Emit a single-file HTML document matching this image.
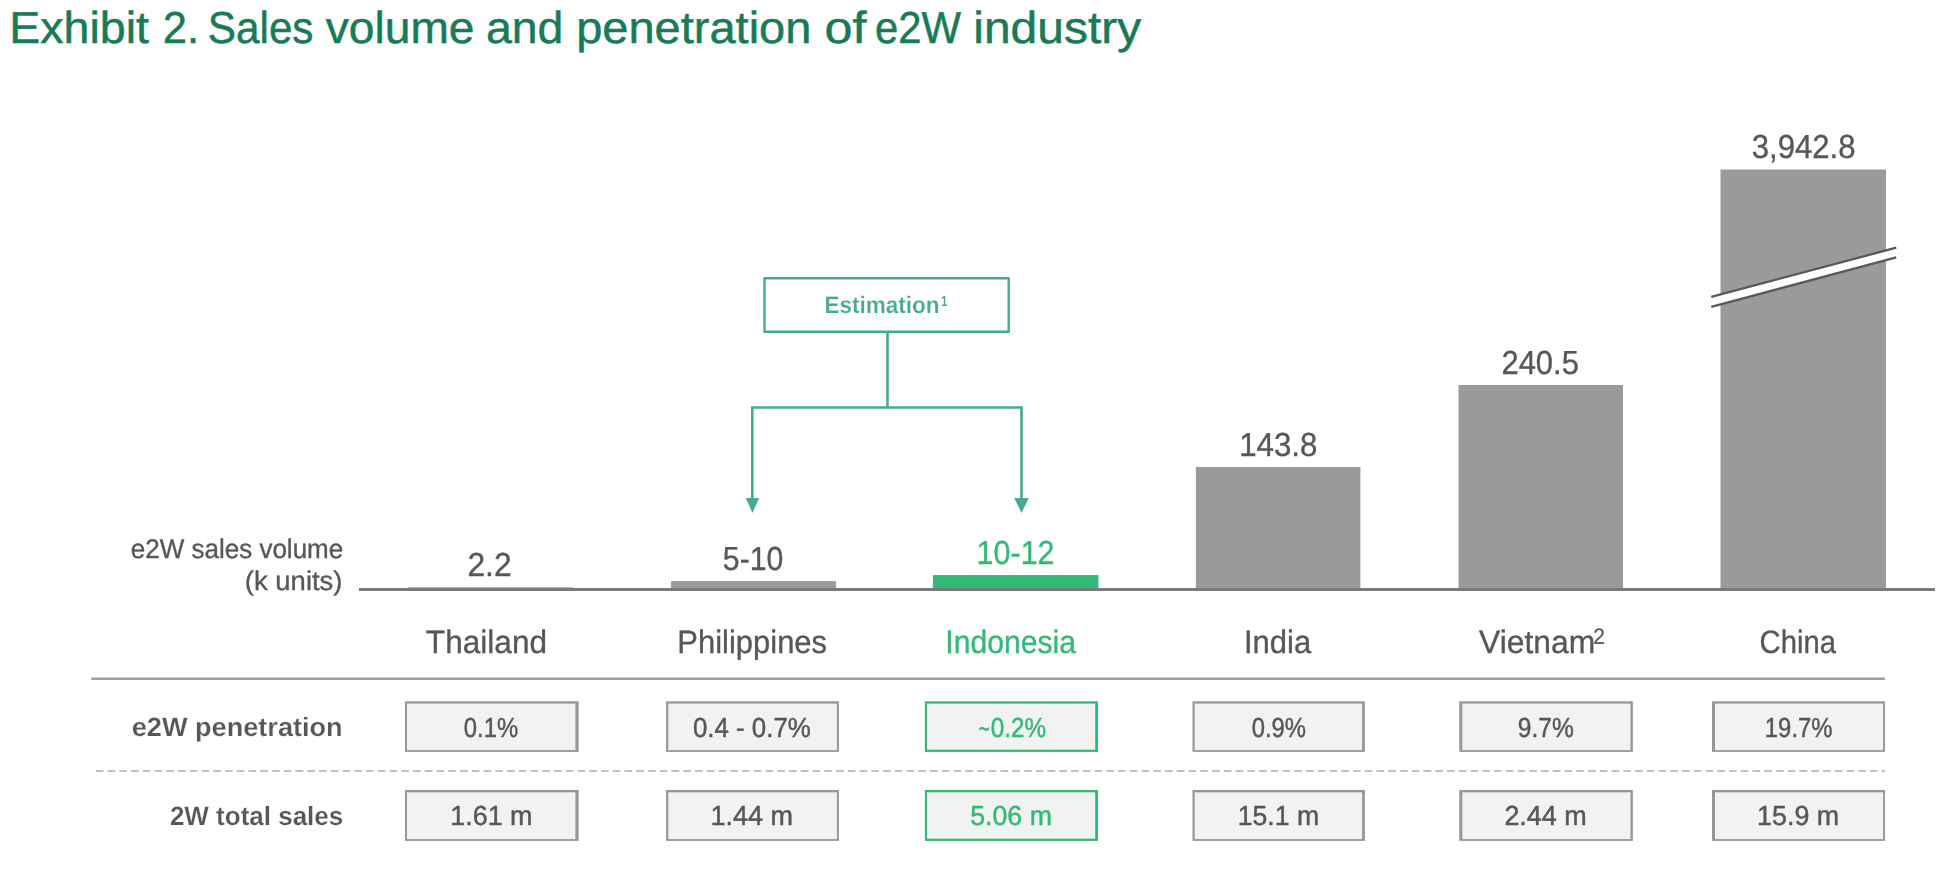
<!DOCTYPE html>
<html lang="en"><head><meta charset="utf-8"><title>Exhibit 2. Sales volume and penetration of e2W industry</title>
<style>
html,body{margin:0;padding:0;background:#fff;}
body{width:1956px;height:874px;overflow:hidden;position:relative;}
svg{display:block;position:absolute;left:0;top:0;font-family:"Liberation Sans",sans-serif;}
#chart{will-change:transform;}
text{white-space:pre;text-rendering:geometricPrecision;}
</style></head><body>
<svg id="title" width="1956" height="70" viewBox="0 0 1956 70">
<text><tspan x="9.31" y="43.00" font-size="44.8" textLength="139.66" lengthAdjust="spacingAndGlyphs" fill="#197a56" stroke="#197a56" stroke-width="0.5">Exhibit</tspan> <tspan x="162.77" y="43.00" font-size="44.8" textLength="36.37" lengthAdjust="spacingAndGlyphs" fill="#197a56" stroke="#197a56" stroke-width="0.5">2.</tspan> <tspan x="207.85" y="43.00" font-size="44.8" textLength="105.64" lengthAdjust="spacingAndGlyphs" fill="#197a56" stroke="#197a56" stroke-width="0.5">Sales</tspan> <tspan x="325.82" y="43.00" font-size="44.8" textLength="148.65" lengthAdjust="spacingAndGlyphs" fill="#197a56" stroke="#197a56" stroke-width="0.5">volume</tspan> <tspan x="485.98" y="43.00" font-size="44.8" textLength="77.42" lengthAdjust="spacingAndGlyphs" fill="#197a56" stroke="#197a56" stroke-width="0.5">and</tspan> <tspan x="576.20" y="43.00" font-size="44.8" textLength="235.19" lengthAdjust="spacingAndGlyphs" fill="#197a56" stroke="#197a56" stroke-width="0.5">penetration</tspan> <tspan x="824.41" y="43.00" font-size="44.8" textLength="41.99" lengthAdjust="spacingAndGlyphs" fill="#197a56" stroke="#197a56" stroke-width="0.5">of</tspan> <tspan x="875.07" y="43.00" font-size="44.8" textLength="86.03" lengthAdjust="spacingAndGlyphs" fill="#197a56" stroke="#197a56" stroke-width="0.5">e2W</tspan> <tspan x="973.32" y="43.00" font-size="44.8" textLength="167.81" lengthAdjust="spacingAndGlyphs" fill="#197a56" stroke="#197a56" stroke-width="0.5">industry</tspan></text>
</svg>
<svg id="chart" width="1956" height="874" viewBox="0 0 1956 874">
<rect x="408" y="587.3" width="165.0" height="2.0" fill="#9a9a9a"/>
<rect x="671.1" y="581.1" width="164.8" height="8.2" fill="#9a9a9a"/>
<rect x="932.9" y="575.1" width="165.5" height="14.2" fill="#32b977"/>
<rect x="1195.9" y="467" width="164.5" height="122.3" fill="#9a9a9a"/>
<rect x="1458.5" y="385" width="164.5" height="204.3" fill="#9a9a9a"/>
<rect x="1720.5" y="169.5" width="165.5" height="419.8" fill="#9a9a9a"/>
<rect x="359" y="588" width="1575.9" height="3" fill="#7b7b7b"/>
<polygon points="1711.3,296.8 1896.3,247.7 1896.3,257.4 1711.3,306.8" fill="#ffffff"/>
<line x1="1711.3" y1="296.8" x2="1896.3" y2="247.7" stroke="#595959" stroke-width="2.3"/>
<line x1="1711.3" y1="306.8" x2="1896.3" y2="257.4" stroke="#595959" stroke-width="2.3"/>
<text x="467.38" y="576.00" font-size="33.3" textLength="44.24" lengthAdjust="spacingAndGlyphs" fill="#575757" stroke="#575757" stroke-width="0.35">2.2</text>
<text x="722.87" y="570.00" font-size="33.3" textLength="60.44" lengthAdjust="spacingAndGlyphs" fill="#575757" stroke="#575757" stroke-width="0.35">5-10</text>
<text x="976.59" y="564.10" font-size="33.3" textLength="77.97" lengthAdjust="spacingAndGlyphs" fill="#32b977" stroke="#32b977" stroke-width="0.35">10-12</text>
<text x="1239.13" y="455.90" font-size="33.3" textLength="78.22" lengthAdjust="spacingAndGlyphs" fill="#575757" stroke="#575757" stroke-width="0.35">143.8</text>
<text x="1501.43" y="373.70" font-size="33.3" textLength="77.44" lengthAdjust="spacingAndGlyphs" fill="#575757" stroke="#575757" stroke-width="0.35">240.5</text>
<text x="1751.71" y="157.60" font-size="33.3" textLength="103.79" lengthAdjust="spacingAndGlyphs" fill="#575757" stroke="#575757" stroke-width="0.35">3,942.8</text>
<text x="130.77" y="557.60" font-size="26.9" textLength="212.46" lengthAdjust="spacingAndGlyphs" fill="#575757" stroke="#575757" stroke-width="0.35">e2W sales volume</text>
<text x="244.86" y="590.10" font-size="26.9" textLength="97.62" lengthAdjust="spacingAndGlyphs" fill="#575757" stroke="#575757" stroke-width="0.35">(k units)</text>
<text x="425.86" y="652.80" font-size="32.4" textLength="121.17" lengthAdjust="spacingAndGlyphs" fill="#575757" stroke="#575757" stroke-width="0.35">Thailand</text>
<text x="677.32" y="652.80" font-size="32.4" textLength="149.76" lengthAdjust="spacingAndGlyphs" fill="#575757" stroke="#575757" stroke-width="0.35">Philippines</text>
<text x="945.29" y="652.80" font-size="32.4" textLength="130.60" lengthAdjust="spacingAndGlyphs" fill="#32b977" stroke="#32b977" stroke-width="0.35">Indonesia</text>
<text x="1244.01" y="652.80" font-size="32.4" textLength="67.25" lengthAdjust="spacingAndGlyphs" fill="#575757" stroke="#575757" stroke-width="0.35">India</text>
<text><tspan x="1479.02" y="652.80" font-size="32.4" textLength="116.19" lengthAdjust="spacingAndGlyphs" fill="#575757" stroke="#575757" stroke-width="0.35">Vietnam</tspan><tspan x="1593.13" y="644.00" font-size="22.3" textLength="11.67" lengthAdjust="spacingAndGlyphs" fill="#575757" stroke="#575757" stroke-width="0.15">2</tspan></text>
<text x="1759.61" y="652.80" font-size="32.4" textLength="76.32" lengthAdjust="spacingAndGlyphs" fill="#575757" stroke="#575757" stroke-width="0.35">China</text>
<rect x="764.5" y="278.3" width="244.2" height="53.5" fill="#fff" stroke="#45ab93" stroke-width="2.4" stroke-linejoin="round"/>
<path d="M887.5 332 V407.5 M752.3 500 V407.5 H1021.5 V500" fill="none" stroke="#45ab93" stroke-width="2.6"/>
<polygon points="745.9,497.9 759.1,497.9 752.4,513" fill="#45ab93"/>
<polygon points="1014.2,497.9 1028.8,497.9 1021.5,513" fill="#45ab93"/>
<text><tspan x="824.38" y="313.00" font-size="23.9" textLength="115.22" lengthAdjust="spacingAndGlyphs" fill="#45ab93" font-weight="bold" stroke="#ffffff" stroke-width="0.2">Estimation</tspan><tspan x="941.21" y="305.60" font-size="14.6" textLength="6.10" lengthAdjust="spacingAndGlyphs" fill="#45ab93" font-weight="bold">1</tspan></text>
<rect x="91.4" y="677.6" width="1793.5" height="2.3" fill="#979797"/>
<line x1="95.8" y1="770.95" x2="1885" y2="770.95" stroke="#c2c2c2" stroke-width="2.1" stroke-dasharray="7.6 4.15"/>
<rect x="405.0" y="701.3" width="173.6" height="50.6" fill="#979797"/>
<rect x="407.0" y="703.6" width="168.4" height="46.5" fill="#f2f2f2"/>
<rect x="405.0" y="790.0" width="173.6" height="50.9" fill="#979797"/>
<rect x="407.0" y="792.3" width="168.4" height="46.8" fill="#f2f2f2"/>
<rect x="666.1" y="701.3" width="172.8" height="50.6" fill="#979797"/>
<rect x="668.3" y="703.6" width="168.6" height="46.5" fill="#f2f2f2"/>
<rect x="666.1" y="790.0" width="172.8" height="50.9" fill="#979797"/>
<rect x="668.3" y="792.3" width="168.6" height="46.8" fill="#f2f2f2"/>
<rect x="924.9" y="701.3" width="173.1" height="50.6" fill="#32b977"/>
<rect x="927.0" y="703.6" width="168.2" height="46.1" fill="#f2f2f2"/>
<rect x="924.9" y="790.0" width="173.1" height="50.9" fill="#32b977"/>
<rect x="927.0" y="792.3" width="168.2" height="46.4" fill="#f2f2f2"/>
<rect x="1192.5" y="701.3" width="172.4" height="50.6" fill="#979797"/>
<rect x="1194.7" y="703.6" width="167.4" height="46.5" fill="#f2f2f2"/>
<rect x="1192.5" y="790.0" width="172.4" height="50.9" fill="#979797"/>
<rect x="1194.7" y="792.3" width="167.4" height="46.8" fill="#f2f2f2"/>
<rect x="1459.3" y="701.3" width="173.6" height="50.6" fill="#979797"/>
<rect x="1462.3" y="703.6" width="168.2" height="46.5" fill="#f2f2f2"/>
<rect x="1459.3" y="790.0" width="173.6" height="50.9" fill="#979797"/>
<rect x="1462.3" y="792.3" width="168.2" height="46.8" fill="#f2f2f2"/>
<rect x="1712.0" y="701.3" width="173.0" height="50.6" fill="#979797"/>
<rect x="1715.0" y="703.6" width="168.1" height="46.5" fill="#f2f2f2"/>
<rect x="1712.0" y="790.0" width="173.0" height="50.9" fill="#979797"/>
<rect x="1715.0" y="792.3" width="168.1" height="46.8" fill="#f2f2f2"/>
<text x="131.72" y="735.80" font-size="26.4" textLength="210.95" lengthAdjust="spacingAndGlyphs" fill="#575757" font-weight="bold" stroke="#ffffff" stroke-width="0.2">e2W penetration</text>
<text x="169.89" y="825.00" font-size="26.4" textLength="173.39" lengthAdjust="spacingAndGlyphs" fill="#575757" font-weight="bold" stroke="#ffffff" stroke-width="0.2">2W total sales</text>
<text x="463.77" y="736.80" font-size="27.5" textLength="54.38" lengthAdjust="spacingAndGlyphs" fill="#575757" stroke="#575757" stroke-width="0.45">0.1%</text>
<text x="450.21" y="825.00" font-size="27.5" textLength="82.31" lengthAdjust="spacingAndGlyphs" fill="#575757" stroke="#575757" stroke-width="0.45">1.61 m</text>
<text x="692.89" y="736.80" font-size="27.5" textLength="118.01" lengthAdjust="spacingAndGlyphs" fill="#575757" stroke="#575757" stroke-width="0.45">0.4 - 0.7%</text>
<text x="710.60" y="825.00" font-size="27.5" textLength="82.52" lengthAdjust="spacingAndGlyphs" fill="#575757" stroke="#575757" stroke-width="0.45">1.44 m</text>
<text><tspan x="978.55" y="737.60" font-size="27.5" textLength="11.38" lengthAdjust="spacingAndGlyphs" fill="#32b977" stroke="#32b977" stroke-width="0.45">~</tspan><tspan x="990.75" y="736.80" font-size="27.5" textLength="55.32" lengthAdjust="spacingAndGlyphs" fill="#32b977" stroke="#32b977" stroke-width="0.45">0.2%</tspan></text>
<text x="970.15" y="825.00" font-size="27.5" textLength="81.85" lengthAdjust="spacingAndGlyphs" fill="#32b977" stroke="#32b977" stroke-width="0.45">5.06 m</text>
<text x="1251.77" y="736.80" font-size="27.5" textLength="54.28" lengthAdjust="spacingAndGlyphs" fill="#575757" stroke="#575757" stroke-width="0.45">0.9%</text>
<text x="1237.63" y="825.00" font-size="27.5" textLength="81.47" lengthAdjust="spacingAndGlyphs" fill="#575757" stroke="#575757" stroke-width="0.45">15.1 m</text>
<text x="1517.86" y="736.80" font-size="27.5" textLength="56.02" lengthAdjust="spacingAndGlyphs" fill="#575757" stroke="#575757" stroke-width="0.45">9.7%</text>
<text x="1504.38" y="825.00" font-size="27.5" textLength="82.44" lengthAdjust="spacingAndGlyphs" fill="#575757" stroke="#575757" stroke-width="0.45">2.44 m</text>
<text x="1764.83" y="736.80" font-size="27.5" textLength="67.79" lengthAdjust="spacingAndGlyphs" fill="#575757" stroke="#575757" stroke-width="0.45">19.7%</text>
<text x="1757.01" y="825.00" font-size="27.5" textLength="82.21" lengthAdjust="spacingAndGlyphs" fill="#575757" stroke="#575757" stroke-width="0.45">15.9 m</text>
</svg>
</body></html>
